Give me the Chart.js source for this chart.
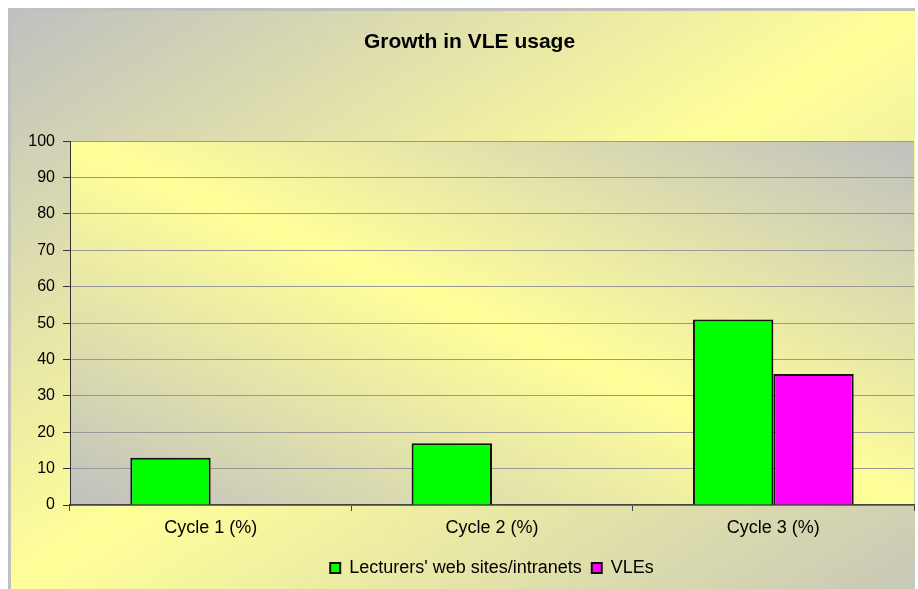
<!DOCTYPE html>
<html>
<head>
<meta charset="utf-8">
<script src="https://cdn.jsdelivr.net/npm/chart.js@4"></script>
<style>
body { margin: 0; background: #fff; }
#box {
  position: absolute; left: 8px; top: 8px; width: 907px; height: 581px;
  box-sizing: border-box;
  border-top: 3px solid #c0c0c0; border-left: 3px solid #c0c0c0;
  background: linear-gradient(to bottom right, #c0c0c0 0%, #ffff99 50%, #c8c8b8 100%);
}
canvas { display: block; }
</style>
</head>
<body>
<div id="box"><canvas id="vleChart" width="904" height="578"></canvas></div>
<script>
// data
const categories = ['Cycle 1 (%)', 'Cycle 2 (%)', 'Cycle 3 (%)'];
const lecturersSites = [13, 17, 51];
const vles = [null, null, 36];
const yMin = 0, yMax = 100, yStep = 10;

const font = "'Liberation Sans', Arial, sans-serif";

// plot area fill: grey corners bottom-left / top-right, yellow across the middle
const plotBg = {
  id: 'plotBg',
  beforeDraw(chart) {
    const ctx = chart.ctx, a = chart.chartArea;
    const w = a.right - a.left, h = a.bottom - a.top;
    const L = Math.sqrt(w * w + h * h);
    const cx = (a.left + a.right) / 2, cy = (a.top + a.bottom) / 2;
    const dx = h / L, dy = -w / L, k = w * h / L;
    const g = ctx.createLinearGradient(cx - dx * k, cy - dy * k, cx + dx * k, cy + dy * k);
    g.addColorStop(0, '#c0c0c0');
    g.addColorStop(0.5, '#ffff99');
    g.addColorStop(1, '#c0c0c0');
    ctx.save();
    ctx.fillStyle = g;
    ctx.fillRect(a.left, a.top, w, h);
    ctx.restore();
  }
};

var ctxB = document.getElementById('vleChart').getContext('2d');
var vleChart = new Chart(ctxB, {
  type: 'bar',
  data: {
    labels: categories,
    datasets: [{
      label: "Lecturers' web sites/intranets",
      data: lecturersSites,
      backgroundColor: '#00ff00',
      borderColor: '#111',
      borderWidth: 2,
      categoryPercentage: 2 / 3.5,
      barPercentage: 1
    }, {
      label: 'VLEs',
      data: vles,
      backgroundColor: '#ff00ff',
      borderColor: '#111',
      borderWidth: 2,
      categoryPercentage: 2 / 3.5,
      barPercentage: 1
    }]
  },
  options: {
    responsive: false,
    animation: false,
    layout: { padding: { left: 14, right: 1, top: 0, bottom: 2 } },
    plugins: {
      title: {
        display: true,
        text: 'Growth in VLE usage',
        color: '#000',
        font: { family: font, size: 21, weight: 'bold' },
        padding: { top: 19, bottom: 86 }
      },
      legend: {
        position: 'bottom',
        fullSize: false,
        labels: {
          color: '#000',
          font: { family: font, size: 18 },
          boxWidth: 10,
          boxHeight: 10,
          padding: 10
        }
      },
      tooltip: { enabled: false }
    },
    scales: {
      x: {
        grid: { drawOnChartArea: false, tickLength: 6, color: '#444', lineWidth: 1 },
        border: { color: '#444', width: 1.5 },
        ticks: { color: '#000', font: { family: font, size: 18 }, padding: 6 },
        afterFit: function(axis) { axis.height = 44; }
      },
      y: {
        min: yMin,
        max: yMax,
        grid: { color: '#999', tickColor: '#333', tickLength: 7, lineWidth: 1 },
        border: { color: '#333', width: 1 },
        ticks: { stepSize: yStep, color: '#000', font: { family: font, size: 16 }, padding: 8 },
        afterFit: function(axis) { axis.width = 45; }
      }
    }
  },
  plugins: [plotBg]
});
</script>
</body>
</html>
